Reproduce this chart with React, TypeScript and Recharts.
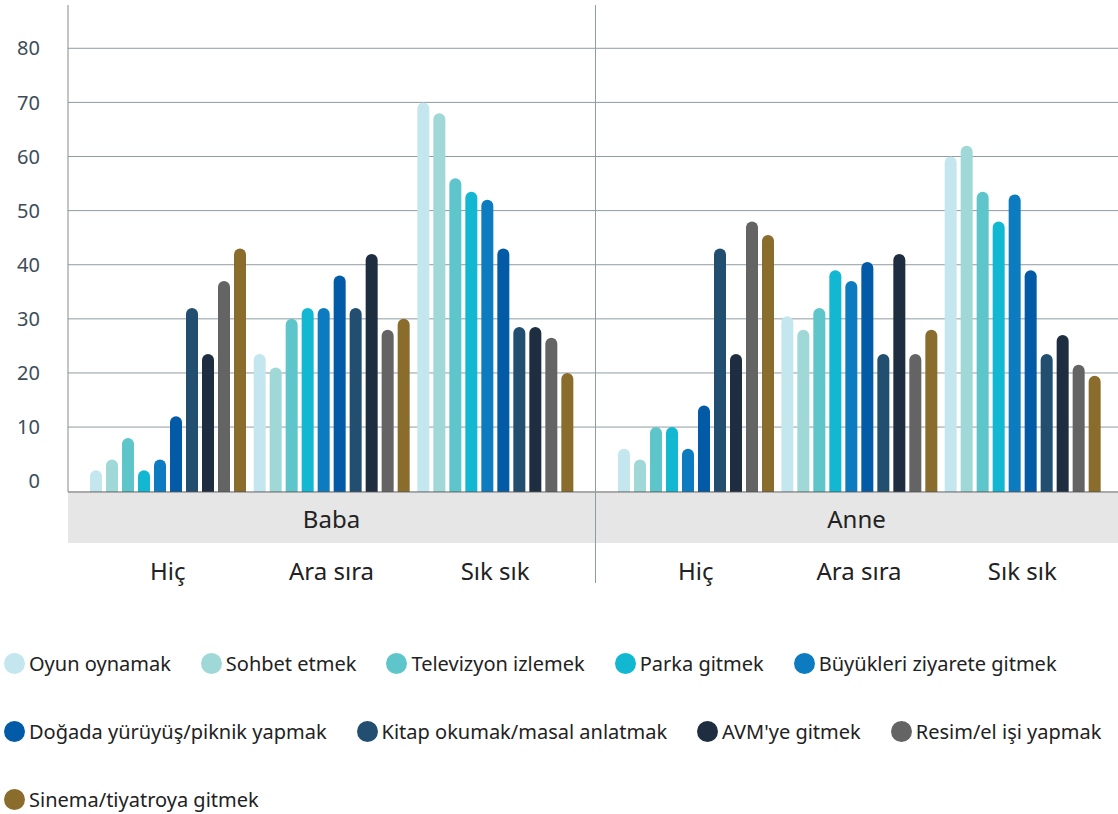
import React from 'react';
import { BarChart, Bar, XAxis, YAxis, CartesianGrid } from 'recharts';

const categories = ['Hiç', 'Ara sıra', 'Sık sık'];
const groups = ['Baba', 'Anne'];

const seriesNames = [
  'Oyun oynamak',
  'Sohbet etmek',
  'Televizyon izlemek',
  'Parka gitmek',
  'Büyükleri ziyarete gitmek',
  'Doğada yürüyüş/piknik yapmak',
  'Kitap okumak/masal anlatmak',
  "AVM'ye gitmek",
  'Resim/el işi yapmak',
  'Sinema/tiyatroya gitmek'
];

const seriesColors = [
  '#c4e6ee',
  '#9fd8d6',
  '#5ec6cb',
  '#12b8d2',
  '#0c7bc0',
  '#035aa6',
  '#224f70',
  '#1f2d40',
  '#646464',
  '#8a6d2c'
];

// values per series, one array per category
const babaHic = [2, 4, 8, 2, 4, 12, 32, 23.5, 37, 43];
const babaAraSira = [23.5, 21, 30, 32, 32, 38, 32, 42, 28, 30];
const babaSikSik = [70, 68, 56, 53.5, 52, 43, 28.5, 28.5, 26.5, 20];

const anneHic = [6, 4, 10, 10, 6, 14, 43, 23.5, 48, 45.5];
const anneAraSira = [30.5, 28, 32, 39, 37, 40.5, 23.5, 42, 23.5, 28];
const anneSikSik = [60, 62, 53.5, 48, 53, 39, 23.5, 27, 21.5, 19.5];

const yTicks = [0, 10, 20, 30, 40, 50, 60, 70, 80];
const yDomain = [-2, 88];

const FONT = '"Noto Sans", sans-serif';

const buildRows = (cols: number[][]) =>
  cols.map((vals, ci) => {
    const row: Record<string, any> = { cat: categories[ci] };
    vals.forEach((v, si) => {
      row[`s${si}`] = [yDomain[0], v];
    });
    return row;
  });

const babaData = buildRows([babaHic, babaAraSira, babaSikSik]);
const anneData = buildRows([anneHic, anneAraSira, anneSikSik]);

const CatTick = (props: any) => {
  const { x, y, payload } = props;
  return (
    <text x={x} y={y + 88} textAnchor="middle" fontSize={24} fill="#222" fontFamily={FONT}>
      {payload.value}
    </text>
  );
};

const renderBars = () =>
  seriesNames.map((name, i) => (
    <Bar
      key={name}
      dataKey={`s${i}`}
      name={name}
      fill={seriesColors[i]}
      barSize={12}
      radius={[6, 6, 0, 0]}
      isAnimationActive={false}
    />
  ));

const App: React.FC = () => {
  return (
    <div style={{ position: 'absolute', left: 0, top: 0, width: 1118, height: 814, background: '#fff', fontFamily: FONT }}>
      {/* grey band under the plot */}
      <div style={{ position: 'absolute', left: 68, top: 493, width: 1050, height: 50, background: '#e6e6e6' }} />
      {groups.map((g, i) => (
        <div
          key={g}
          style={{
            position: 'absolute',
            left: i === 0 ? 68 : 595,
            width: i === 0 ? 527 : 523,
            top: 503,
            textAlign: 'center',
            fontSize: 24,
            color: '#222',
            lineHeight: '32px'
          }}
        >
          {g}
        </div>
      ))}

      <div style={{ position: 'absolute', left: 0, top: 0 }}>
        <BarChart width={595} height={600} data={babaData} margin={{ top: 5, right: 0, left: 0, bottom: 8 }} barGap={4}>
          <CartesianGrid vertical={false} stroke="#8f9ca2" horizontalValues={yTicks.slice(1)} />
          <XAxis
            dataKey="cat"
            height={100}
            padding={{ left: 18, right: 18 }}
            axisLine={{ stroke: '#555' }}
            tickLine={false}
            tickSize={0}
            tickMargin={0}
            tick={<CatTick />}
          />
          <YAxis
            width={68}
            domain={yDomain}
            ticks={yTicks}
            allowDataOverflow
            axisLine={{ stroke: '#888' }}
            tickLine={false}
            tickSize={0}
            tickMargin={28}
            tick={{ fontSize: 20, fill: '#3d4c58', fontFamily: FONT }}
          />
          {renderBars()}
        </BarChart>
      </div>

      <div style={{ position: 'absolute', left: 595, top: 0 }}>
        <BarChart width={523} height={600} data={anneData} margin={{ top: 5, right: 0, left: 0, bottom: 8 }} barGap={4}>
          <CartesianGrid vertical={false} stroke="#8f9ca2" horizontalValues={yTicks.slice(1)} />
          <XAxis
            dataKey="cat"
            height={100}
            padding={{ left: 19, right: 14 }}
            axisLine={{ stroke: '#555' }}
            tickLine={false}
            tickSize={0}
            tickMargin={0}
            tick={<CatTick />}
          />
          <YAxis hide width={0} domain={yDomain} ticks={yTicks} allowDataOverflow />
          {renderBars()}
        </BarChart>
      </div>

      {/* divider between Baba and Anne */}
      <div style={{ position: 'absolute', left: 595, top: 5, width: 1, height: 578, background: '#8f9ca2' }} />

      {/* legend */}
      <div
        style={{
          position: 'absolute',
          left: 4,
          top: 649,
          width: 1114,
          display: 'flex',
          flexWrap: 'wrap',
          columnGap: 30,
          rowGap: 40
        }}
      >
        {seriesNames.map((name, i) => (
          <div key={name} style={{ display: 'flex', alignItems: 'center', height: 28 }}>
            <span
              style={{
                width: 21,
                height: 21,
                borderRadius: '50%',
                background: seriesColors[i],
                marginRight: 4,
                display: 'inline-block'
              }}
            />
            <span style={{ fontSize: 20, color: '#222', whiteSpace: 'nowrap' }}>{name}</span>
          </div>
        ))}
      </div>
    </div>
  );
};

export default App;
